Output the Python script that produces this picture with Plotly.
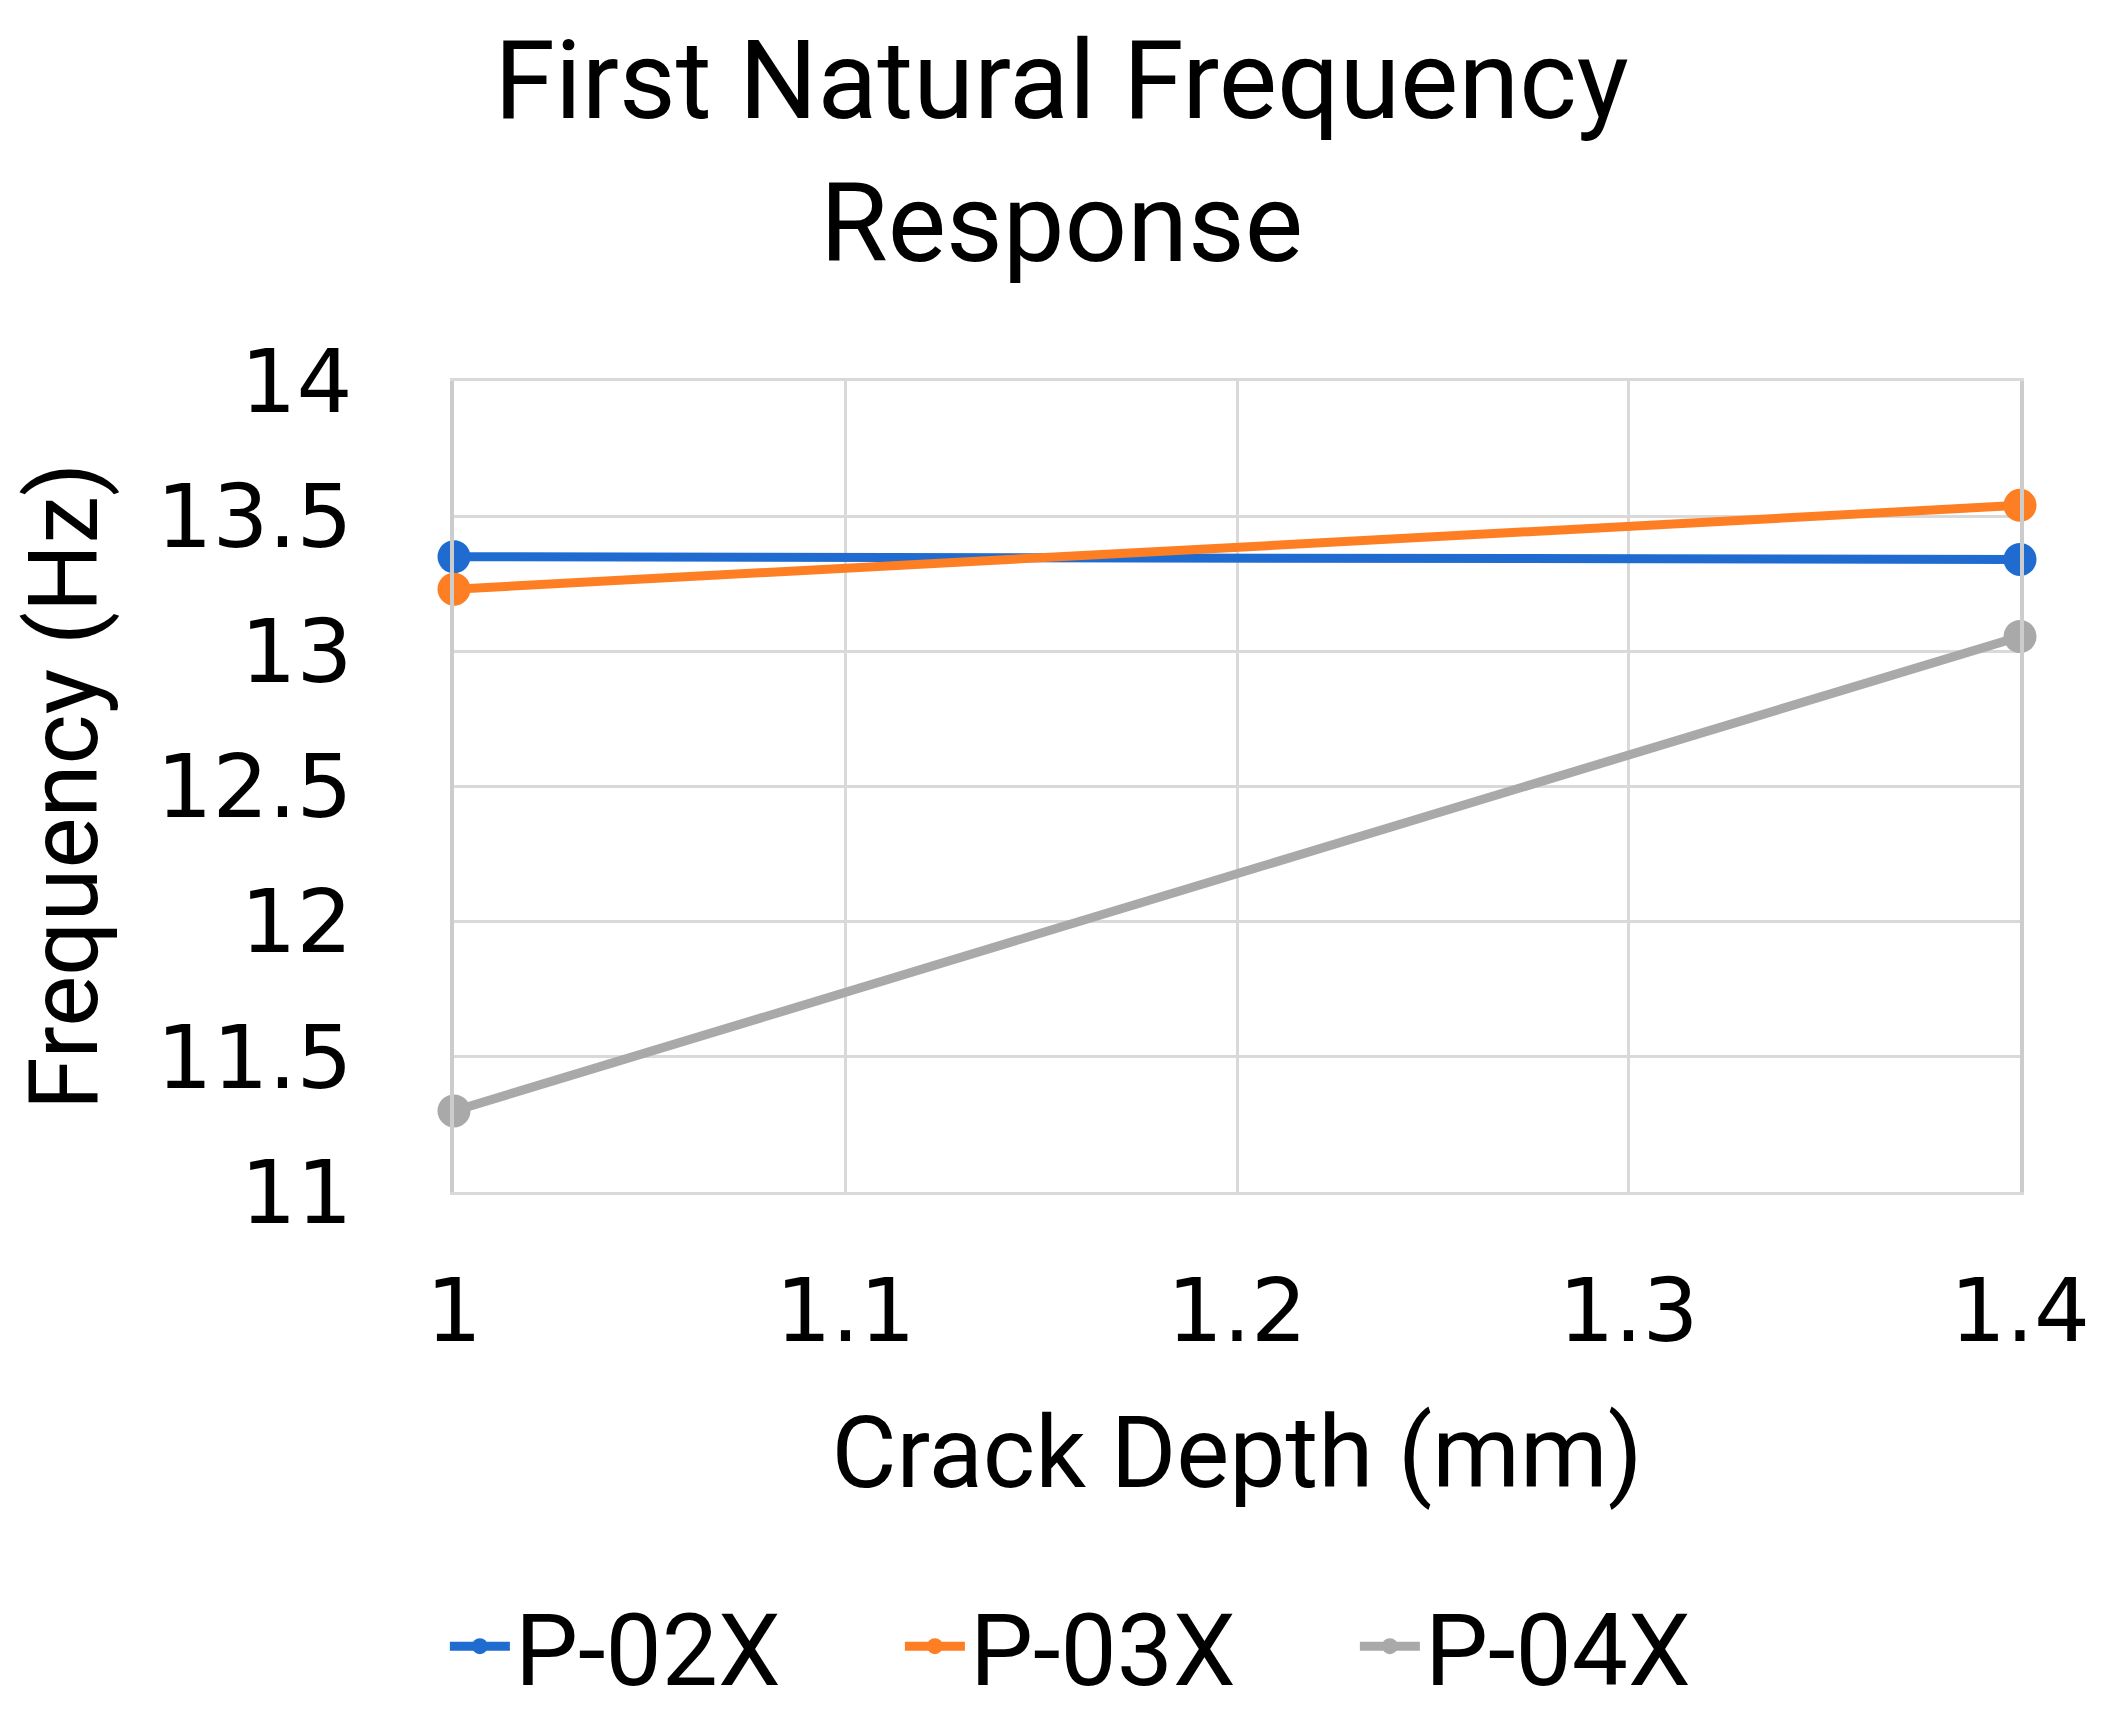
import plotly.graph_objects as go

crack_depth = [1.0, 1.4]
p02x = [13.35, 13.34]
p03x = [13.23, 13.54]
p04x = [11.30, 13.055]
series_names = ["P-02X", "P-03X", "P-04X"]
colors = ["#1f6bd0", "#fd7e23", "#a9a9a9"]
x_ticks = [1.0, 1.1, 1.2, 1.3, 1.4]
x_tick_labels = ["1", "1.1", "1.2", "1.3", "1.4"]
y_ticks = [11, 11.5, 12, 12.5, 13, 13.5, 14]
y_tick_labels = ["11", "11.5", "12", "12.5", "13", "13.5", "14"]

FONT = "Roboto, sans-serif"
TICKFONT = "DejaVu Sans, sans-serif"

fig = go.Figure()
for name, vals, col in zip(series_names, [p02x, p03x, p04x], colors):
    fig.add_trace(go.Scatter(
        x=crack_depth, y=vals, name=name, mode="lines+markers",
        line=dict(color=col, width=9),
        marker=dict(color=col, size=33),
        cliponaxis=False,
    ))

fig.update_layout(
    width=2107, height=1721,
    paper_bgcolor="white", plot_bgcolor="white",
    margin=dict(l=446, r=95, t=373, b=532),
    font=dict(family=FONT, color="black", size=88),
    title=dict(text="First Natural Frequency<br>Response", x=0.5, xanchor="center",
               yref="container", y=0.936, yanchor="top",
               font=dict(size=110, family=FONT)),
    showlegend=True,
    legend=dict(orientation="h", x=0.43, xanchor="center", y=-0.56, yanchor="middle",
                font=dict(size=100, family=FONT), itemwidth=60,
                entrywidth=380, entrywidthmode="pixels"),
)
fig.update_xaxes(
    range=[1.0, 1.4], tickvals=x_ticks, ticktext=x_tick_labels,
    showgrid=True, gridcolor="#d9d9d9", gridwidth=3,
    showline=True, linecolor="#d9d9d9", linewidth=3, mirror=True,
    ticks="", ticklabelstandoff=40, zeroline=False,
    title=dict(text="Crack Depth (mm)", font=dict(size=100, family=FONT), standoff=57),
    tickfont=dict(size=88, family=TICKFONT),
)
fig.update_yaxes(
    range=[11, 14], tickvals=y_ticks, ticktext=y_tick_labels,
    showgrid=True, gridcolor="#d9d9d9", gridwidth=3,
    showline=True, linecolor="#cccccc", linewidth=4, mirror=True,
    ticks="", ticklabelstandoff=80, zeroline=False,
    title=dict(text="Frequency (Hz)", font=dict(size=96, family=FONT), standoff=28),
    tickfont=dict(size=88, family=TICKFONT),
)

fig.write_html("out.html")
